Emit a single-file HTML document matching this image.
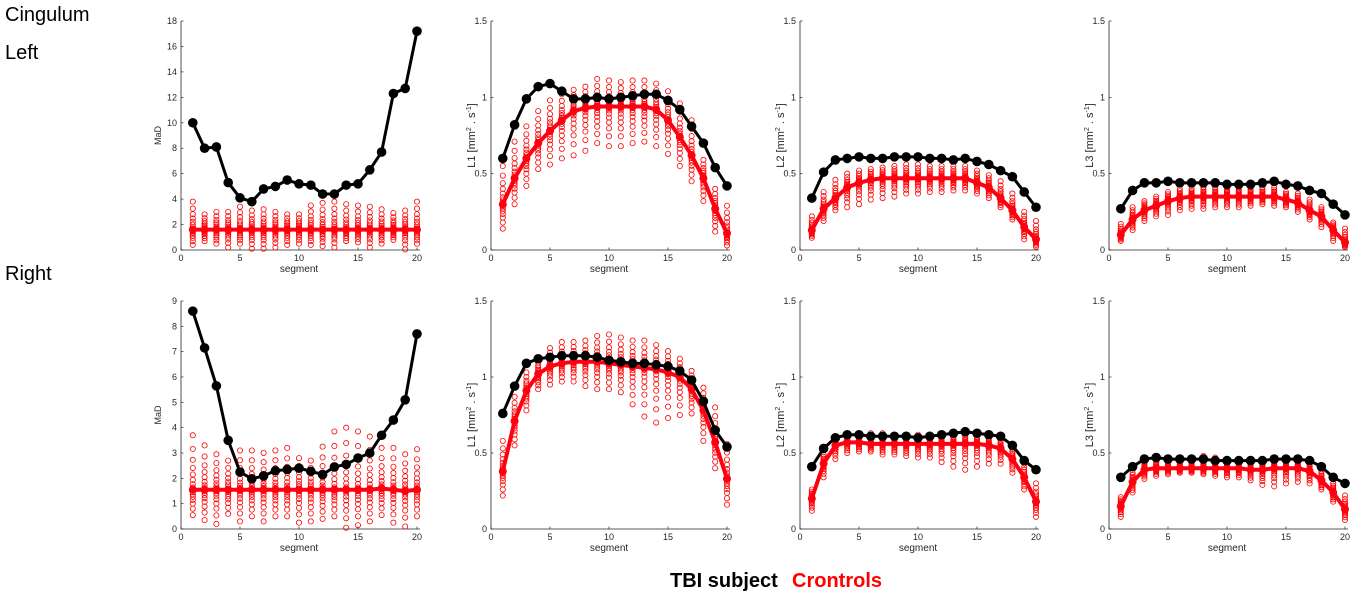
<!DOCTYPE html>
<html><head><meta charset="utf-8"><style>
body{margin:0;background:#fff;width:1370px;height:597px;overflow:hidden;font-family:"Liberation Sans",sans-serif}
svg{position:absolute;left:0;top:0}
</style></head><body>
<svg id="c" width="1370" height="597" xmlns="http://www.w3.org/2000/svg">
<text x="5" y="21" font-size="20" fill="#000">Cingulum</text>
<text x="5" y="59" font-size="20" fill="#000">Left</text>
<text x="5" y="280" font-size="20" fill="#000">Right</text>
<text x="670" y="587" font-size="20" font-weight="bold" fill="#000">TBI subject</text>
<text x="792" y="587" font-size="20" font-weight="bold" fill="#ff0000">Crontrols</text>
</svg>
<script>
const segments=[1,2,3,4,5,6,7,8,9,10,11,12,13,14,15,16,17,18,19,20];
const tbiLeftMaD=[10,8,8.1,5.3,4.1,3.8,4.8,5.0,5.5,5.2,5.1,4.4,4.4,5.1,5.2,6.3,7.7,12.3,12.7,17.2];
const ctlLeftMaD=[1.6,1.6,1.6,1.6,1.6,1.6,1.6,1.6,1.6,1.6,1.6,1.6,1.6,1.6,1.6,1.6,1.6,1.6,1.6,1.6];
const lowLeftMaD=[0.4,0.7,0.5,0.2,0.5,0.1,0.1,0.2,0.4,0.5,0.4,0.3,0.2,0.7,0.6,0.2,0.5,0.8,0.05,0.5];
const highLeftMaD=[3.8,2.8,3.0,3.0,3.4,3.1,3.2,3.0,2.8,2.8,3.5,3.7,3.8,3.6,3.5,3.4,3.2,2.9,3.1,3.8];
const tbiLeftL1=[0.6,0.82,0.99,1.07,1.09,1.04,0.99,0.99,1.0,0.99,1.0,1.01,1.02,1.02,0.98,0.92,0.81,0.70,0.54,0.42];
const ctlLeftL1=[0.30,0.47,0.60,0.70,0.78,0.85,0.91,0.93,0.94,0.94,0.94,0.94,0.94,0.92,0.85,0.74,0.62,0.47,0.27,0.11];
const lowLeftL1=[0.14,0.30,0.42,0.53,0.56,0.60,0.62,0.65,0.70,0.68,0.68,0.70,0.71,0.68,0.63,0.55,0.45,0.32,0.12,0.03];
const highLeftL1=[0.55,0.71,0.81,0.91,0.98,1.02,1.05,1.07,1.12,1.11,1.10,1.11,1.11,1.09,1.04,0.96,0.85,0.59,0.40,0.29];
const tbiLeftL2=[0.34,0.51,0.59,0.60,0.61,0.60,0.60,0.61,0.61,0.61,0.60,0.60,0.59,0.60,0.58,0.56,0.52,0.48,0.38,0.28];
const ctlLeftL2=[0.13,0.27,0.34,0.41,0.44,0.46,0.47,0.47,0.47,0.47,0.47,0.47,0.47,0.47,0.44,0.41,0.34,0.26,0.15,0.07];
const lowLeftL2=[0.08,0.19,0.26,0.28,0.30,0.33,0.34,0.35,0.37,0.37,0.38,0.38,0.39,0.39,0.37,0.34,0.28,0.20,0.07,0.02];
const highLeftL2=[0.22,0.38,0.46,0.50,0.52,0.53,0.54,0.55,0.56,0.56,0.55,0.55,0.55,0.55,0.52,0.49,0.45,0.37,0.25,0.19];
const tbiLeftL3=[0.27,0.39,0.44,0.44,0.45,0.44,0.44,0.44,0.44,0.43,0.43,0.43,0.44,0.45,0.43,0.42,0.39,0.37,0.30,0.23];
const ctlLeftL3=[0.10,0.20,0.26,0.29,0.32,0.34,0.35,0.35,0.35,0.35,0.35,0.35,0.35,0.35,0.33,0.31,0.26,0.22,0.13,0.05];
const lowLeftL3=[0.06,0.13,0.19,0.22,0.23,0.26,0.27,0.27,0.28,0.28,0.28,0.29,0.30,0.29,0.28,0.25,0.20,0.15,0.06,0.02];
const highLeftL3=[0.17,0.28,0.32,0.35,0.38,0.40,0.40,0.41,0.41,0.41,0.41,0.41,0.41,0.41,0.38,0.37,0.33,0.28,0.18,0.14];
const tbiRightMaD=[8.6,7.15,5.65,3.5,2.25,1.98,2.1,2.3,2.35,2.4,2.28,2.15,2.45,2.55,2.8,3.0,3.7,4.3,5.1,7.7];
const ctlRightMaD=[1.55,1.55,1.55,1.55,1.55,1.55,1.55,1.55,1.55,1.55,1.55,1.55,1.55,1.55,1.55,1.55,1.6,1.55,1.5,1.55];
const lowRightMaD=[0.55,0.35,0.2,0.6,0.3,0.5,0.3,0.5,0.5,0.25,0.3,0.4,0.5,0.05,0.15,0.3,0.55,0.25,0.1,0.5];
const highRightMaD=[3.7,3.3,2.95,2.7,3.1,3.1,3.0,3.1,3.2,2.8,2.7,3.25,3.85,4.0,3.85,3.65,3.2,3.2,2.95,3.15];
const tbiRightL1=[0.76,0.94,1.09,1.12,1.13,1.14,1.14,1.14,1.13,1.11,1.10,1.09,1.09,1.08,1.07,1.04,0.98,0.84,0.65,0.54];
const ctlRightL1=[0.38,0.71,0.91,1.02,1.07,1.09,1.10,1.10,1.10,1.09,1.08,1.07,1.06,1.05,1.03,1.00,0.92,0.78,0.57,0.33];
const lowRightL1=[0.22,0.55,0.78,0.92,0.95,0.97,0.97,0.94,0.92,0.92,0.90,0.82,0.74,0.70,0.73,0.75,0.76,0.58,0.40,0.16];
const highRightL1=[0.58,0.87,1.03,1.12,1.19,1.23,1.23,1.24,1.27,1.28,1.26,1.24,1.24,1.21,1.17,1.12,1.04,0.93,0.80,0.56];
const tbiRightL2=[0.41,0.53,0.60,0.62,0.62,0.61,0.61,0.61,0.61,0.60,0.61,0.62,0.63,0.64,0.63,0.62,0.61,0.55,0.45,0.39];
const ctlRightL2=[0.20,0.43,0.55,0.57,0.57,0.56,0.56,0.56,0.56,0.56,0.56,0.56,0.56,0.56,0.56,0.55,0.53,0.46,0.34,0.18];
const lowRightL2=[0.12,0.34,0.46,0.50,0.51,0.51,0.49,0.49,0.48,0.47,0.47,0.44,0.41,0.39,0.41,0.43,0.43,0.37,0.26,0.08];
const highRightL2=[0.26,0.49,0.58,0.63,0.63,0.63,0.63,0.62,0.62,0.62,0.62,0.62,0.62,0.62,0.62,0.61,0.60,0.55,0.43,0.30];
const tbiRightL3=[0.34,0.41,0.46,0.47,0.46,0.46,0.46,0.46,0.45,0.45,0.45,0.45,0.45,0.46,0.46,0.46,0.45,0.41,0.34,0.30];
const ctlRightL3=[0.15,0.31,0.39,0.40,0.40,0.40,0.40,0.40,0.40,0.40,0.40,0.39,0.39,0.40,0.40,0.40,0.38,0.32,0.24,0.13];
const lowRightL3=[0.08,0.24,0.33,0.35,0.36,0.37,0.37,0.36,0.35,0.34,0.34,0.32,0.29,0.28,0.30,0.31,0.30,0.26,0.18,0.06];
const highRightL3=[0.21,0.37,0.44,0.47,0.47,0.47,0.47,0.48,0.47,0.46,0.46,0.46,0.46,0.46,0.46,0.46,0.44,0.40,0.30,0.22];
const xTicks=[0,5,10,15,20];
const ticksMaDLeft=[0,2,4,6,8,10,12,14,16,18];
const ticksMaDRight=[0,1,2,3,4,5,6,7,8,9];
const ticksL=[0,0.5,1,1.5];
const ticksLLabels=["0","0.5","1","1.5"];

const NS="http://www.w3.org/2000/svg";
const svg=document.getElementById('c');
function mk(tag,attrs,parent){const e=document.createElementNS(NS,tag);for(const k in attrs)e.setAttribute(k,attrs[k]);(parent||svg).appendChild(e);return e;}

const panels=[
 {x0:181,top:21,bot:250,ymax:18,ticks:ticksMaDLeft,labels:ticksMaDLeft.map(String),yl:"MaD",tbi:tbiLeftMaD,ctl:ctlLeftMaD,lo:lowLeftMaD,hi:highLeftMaD,name:'left-mad'},
 {x0:491,top:21,bot:250,ymax:1.5,ticks:ticksL,labels:ticksLLabels,yl:"L1",tbi:tbiLeftL1,ctl:ctlLeftL1,lo:lowLeftL1,hi:highLeftL1,name:'left-l1'},
 {x0:800,top:21,bot:250,ymax:1.5,ticks:ticksL,labels:ticksLLabels,yl:"L2",tbi:tbiLeftL2,ctl:ctlLeftL2,lo:lowLeftL2,hi:highLeftL2,name:'left-l2'},
 {x0:1109,top:21,bot:250,ymax:1.5,ticks:ticksL,labels:ticksLLabels,yl:"L3",tbi:tbiLeftL3,ctl:ctlLeftL3,lo:lowLeftL3,hi:highLeftL3,name:'left-l3'},
 {x0:181,top:301,bot:529,ymax:9,ticks:ticksMaDRight,labels:ticksMaDRight.map(String),yl:"MaD",tbi:tbiRightMaD,ctl:ctlRightMaD,lo:lowRightMaD,hi:highRightMaD,name:'right-mad'},
 {x0:491,top:301,bot:529,ymax:1.5,ticks:ticksL,labels:ticksLLabels,yl:"L1",tbi:tbiRightL1,ctl:ctlRightL1,lo:lowRightL1,hi:highRightL1,name:'right-l1'},
 {x0:800,top:301,bot:529,ymax:1.5,ticks:ticksL,labels:ticksLLabels,yl:"L2",tbi:tbiRightL2,ctl:ctlRightL2,lo:lowRightL2,hi:highRightL2,name:'right-l2'},
 {x0:1109,top:301,bot:529,ymax:1.5,ticks:ticksL,labels:ticksLLabels,yl:"L3",tbi:tbiRightL3,ctl:ctlRightL3,lo:lowRightL3,hi:highRightL3,name:'right-l3'}
];
const PX=11.8;
const FR=[-1,-0.75,-0.55,-0.4,-0.28,-0.18,-0.1,-0.04,0.04,0.1,0.18,0.28,0.4,0.55,0.75,1];
panels.forEach(p=>{
 const g=mk('g',{});
 
 
 const xs=v=>p.x0+v*PX;
 const ys=v=>p.bot-(v/p.ymax)*(p.bot-p.top);
 const xr=xs(20.25);
 const ax=mk('path',{d:`M${p.x0},${p.top}V${p.bot}H${xr}`,stroke:'#262626','stroke-width':0.8,fill:'none'},g);
 
 
 xTicks.forEach(t=>{
  mk('line',{x1:xs(t),x2:xs(t),y1:p.bot,y2:p.bot-2.5,stroke:'#262626','stroke-width':0.7},g);
  const tx=mk('text',{x:xs(t),y:p.bot+11,'font-size':9,'text-anchor':'middle',fill:'#262626'},g);
  tx.textContent=t;
  
  
 });
 p.ticks.forEach((t,i)=>{
  mk('line',{x1:p.x0,x2:p.x0+2.5,y1:ys(t),y2:ys(t),stroke:'#262626','stroke-width':0.7},g);
  const tx=mk('text',{x:p.x0-4,y:ys(t)+3,'font-size':9,'text-anchor':'end',fill:'#262626'},g);
  tx.textContent=p.labels[i];
  
  
 });
 const xl=mk('text',{x:xs(10),y:p.bot+22,'font-size':10,'text-anchor':'middle',fill:'#262626'},g);
 xl.textContent='segment';
 
 
 const cy=(p.top+p.bot)/2;
 const lx=p.yl==='MaD'?p.x0-20:p.x0-16;
 const yt=mk('text',{x:lx,y:cy,'font-size':p.yl==='MaD'?9:11,'text-anchor':'middle',fill:'#262626',transform:`rotate(-90 ${lx} ${cy})`},g);
 if(p.yl==='MaD'){yt.textContent='MaD';}
 else{yt.innerHTML=p.yl+'  [mm<tspan dy="-4" font-size="7">2</tspan><tspan dy="4"> . s</tspan><tspan dy="-4" font-size="7">-1</tspan><tspan dy="4">]</tspan>';}
 
 
 segments.forEach((s,i)=>{
  FR.forEach(f=>{
   const v=f<0?p.ctl[i]+f*(p.ctl[i]-p.lo[i]):p.ctl[i]+f*(p.hi[i]-p.ctl[i]);
   const c=mk('circle',{cx:xs(s),cy:ys(v),r:2.6,fill:'none',stroke:'#ff0000','stroke-width':0.8},g);
   
   
  });
 });
 const cl=mk('polyline',{points:segments.map((s,i)=>xs(s)+','+ys(p.ctl[i])).join(' '),fill:'none',stroke:'#ff0010','stroke-width':4,'stroke-linejoin':'round'},g);
 
 
 segments.forEach((s,i)=>{
  const c=mk('circle',{cx:xs(s),cy:ys(p.ctl[i]),r:4,fill:'#ff0010'},g);
  
  
 });
 const tl=mk('polyline',{points:segments.map((s,i)=>xs(s)+','+ys(p.tbi[i])).join(' '),fill:'none',stroke:'#000','stroke-width':3,'stroke-linejoin':'round'},g);
 
 
 segments.forEach((s,i)=>{
  const c=mk('circle',{cx:xs(s),cy:ys(p.tbi[i]),r:4.8,fill:'#000'},g);
  
  
 });
});
</script>
</body></html>
